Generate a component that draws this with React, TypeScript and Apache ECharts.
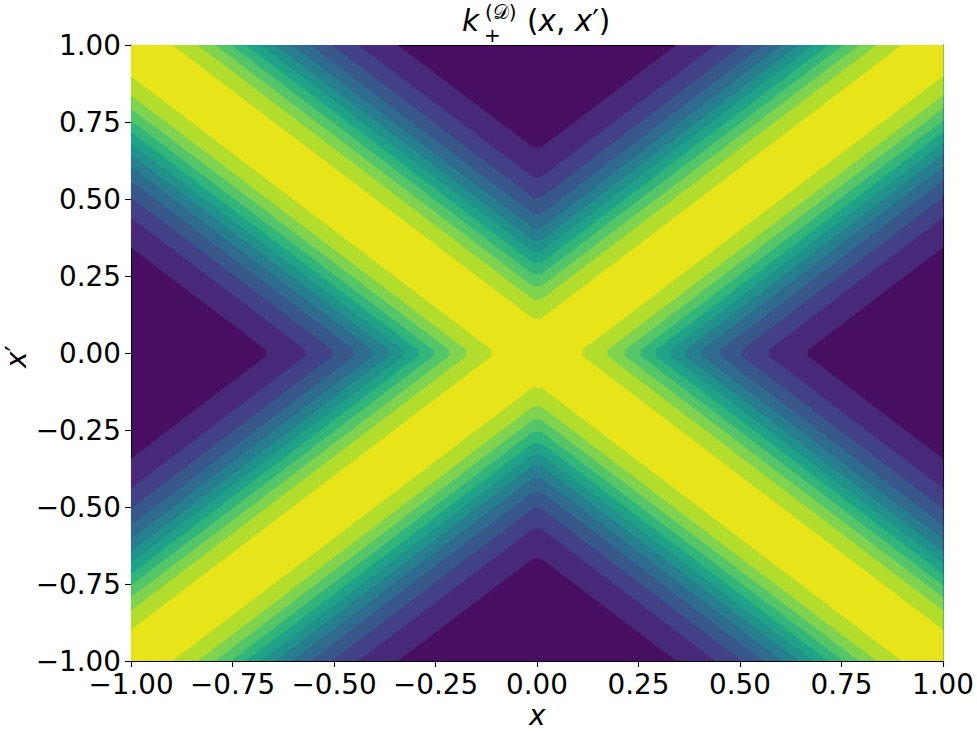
import React, { useEffect, useRef } from "react";
import * as echarts from "echarts";

// Distances from the diagonals (||x| - |x'||) at which the filled-contour colour changes,
// read off the x' = 0 row, from the outermost (darkest) edge to the innermost (yellow) edge.
const levelBounds = [0.667, 0.570, 0.504, 0.451, 0.406, 0.365, 0.329, 0.292, 0.255, 0.216, 0.173, 0.111];
// Band colours (viridis), darkest (outside) to brightest (on the diagonals).
const bandColors = [
  "#470e61", "#482979", "#424086", "#38588c", "#2f6b8e", "#277e8e", "#21918c",
  "#1fa287", "#31b57b", "#54c568", "#7fd34e", "#b2dd2d", "#e7e419",
];
const tickValues = [-1, -0.75, -0.5, -0.25, 0, 0.25, 0.5, 0.75, 1];
const tipFlat = 0.01;

const FONT = "DejaVu Sans";
const FS = 27.8;
const TFS = 29.5;

function fmt(v: number) {
  const s = Math.abs(v).toFixed(2);
  return v < 0 ? "\u2212" + s : s;
}

export default function App() {
  const ref = useRef<HTMLDivElement>(null);
  useEffect(() => {
    if (!ref.current) return;
    const chart = echarts.init(ref.current, null, { renderer: "svg" });
    const data = levelBounds.map((d, i) => [d, 0, i + 1]);
    const axisCommon = {
      type: "value",
      min: tickValues[0],
      max: tickValues[tickValues.length - 1],
      interval: 0.25,
      splitLine: { show: false },
    };
    const richT = {
      u: { fontFamily: FONT, fontSize: TFS, fontStyle: "normal", fill: "#000", color: "#000" },
      i: { fontFamily: FONT, fontSize: TFS, fontStyle: "italic", fill: "#000", color: "#000" },
    };
    const richY = {
      u: { fontFamily: FONT, fontSize: FS, fontStyle: "normal", color: "#000" },
      i: { fontFamily: FONT, fontSize: FS, fontStyle: "italic", color: "#000" },
    };
    chart.setOption({
      animation: false,
      grid: {
        left: 131,
        top: 45,
        width: 814,
        height: 616,
        show: true,
        backgroundColor: bandColors[0],
        borderWidth: 0,
      },
      xAxis: [
        {
          ...axisCommon,
          position: "bottom",
          axisLine: { show: true, onZero: false, lineStyle: { color: "#000", width: 1.1 } },
          axisTick: { show: true, inside: false, length: 6, lineStyle: { color: "#000", width: 1.1 } },
          axisLabel: { show: true, margin: 9, color: "#000", fontFamily: FONT, fontSize: FS, formatter: fmt },
        },
        {
          ...axisCommon,
          position: "top",
          axisLine: { show: true, onZero: false, lineStyle: { color: "#000", width: 1.1 } },
          axisTick: { show: false },
          axisLabel: { show: false },
        },
      ],
      yAxis: [
        {
          ...axisCommon,
          position: "left",
          axisLine: { show: true, onZero: false, lineStyle: { color: "#000", width: 1.1 } },
          axisTick: { show: true, inside: false, length: 6, lineStyle: { color: "#000", width: 1.1 } },
          axisLabel: { show: true, margin: 10, color: "#000", fontFamily: FONT, fontSize: FS, formatter: fmt },
        },
        {
          ...axisCommon,
          position: "right",
          axisLine: { show: true, onZero: false, lineStyle: { color: "#000", width: 1.1 } },
          axisTick: { show: false },
          axisLabel: { show: false },
        },
      ],
      series: [
        {
          type: "custom",
          coordinateSystem: "cartesian2d",
          xAxisIndex: 0,
          yAxisIndex: 0,
          clip: true,
          silent: true,
          data,
          encode: { x: 0, y: 1 },
          renderItem: (params: any, api: any) => {
            const d = api.value(0);
            const ci = api.value(2);
            const h = tipFlat;
            const e = 1 - d + h;
            const raw = [
              [d, h], [1, e], [1, 1], [e, 1], [h, d], [-h, d], [-e, 1], [-1, 1], [-1, e],
              [-d, h], [-d, -h], [-1, -e], [-1, -1], [-e, -1], [-h, -d], [h, -d], [e, -1],
              [1, -1], [1, -e], [d, -h],
            ];
            const points = raw.map((p) => api.coord(p));
            return {
              type: "polygon",
              shape: { points },
              style: { fill: bandColors[ci], stroke: bandColors[ci], lineWidth: 0.5 },
            };
          },
          z: 1,
        },
      ],
      graphic: [
        { type: "text", left: 462, top: 6, style: { text: "k", font: `italic ${TFS}px '${FONT}'`, fill: "#000" } },
        { type: "text", left: 485, top: 2, style: { text: "(\u{1D49F})", font: `20px '${FONT}'`, fill: "#000" } },
        { type: "text", left: 484, top: 25, style: { text: "+", font: `20px '${FONT}'`, fill: "#000" } },
        {
          type: "text",
          left: 527,
          top: 6,
          style: { text: "{u|(}{i|x}{u|, }{i|x}{u|\u2032)}", rich: richT, fill: "#000" },
        },
        { type: "text", left: 529, top: 701, style: { text: "x", font: `italic ${FS}px '${FONT}'`, fill: "#000" } },
        {
          type: "text",
          x: 2,
          y: 368,
          rotation: Math.PI / 2,
          style: { text: "{i|x}{u|\u2032}", rich: richY, fill: "#000" },
        },
      ],
    });
    return () => chart.dispose();
  }, []);
  return (
    <div
      ref={ref}
      style={{ position: "absolute", left: 0, top: 0, width: 977, height: 731 }}
    />
  );
}
